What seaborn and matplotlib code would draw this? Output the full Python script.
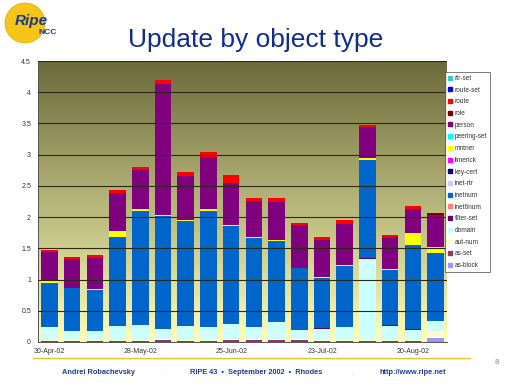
import numpy as np
import matplotlib
matplotlib.use("Agg")
import matplotlib.pyplot as plt
from matplotlib.lines import Line2D
from matplotlib.patches import Ellipse
import seaborn as sns

# weekly dates (x categories)
dates = ['30-Apr-02', '7-May-02', '14-May-02', '21-May-02', '28-May-02', '4-Jun-02',
         '11-Jun-02', '18-Jun-02', '25-Jun-02', '2-Jul-02', '9-Jul-02', '16-Jul-02',
         '23-Jul-02', '30-Jul-02', '6-Aug-02', '13-Aug-02', '20-Aug-02', '27-Aug-02']
shown_ticks = ['30-Apr-02', '28-May-02', '25-Jun-02', '23-Jul-02', '20-Aug-02']

# segment values per object type (stack order bottom -> top)
as_block   = [0, 0, 0, 0, 0, 0, 0, 0, 0, 0, 0, 0, 0, 0, 0, 0, 0, 0.06]
as_set     = [0.02, 0.02, 0.02, 0.02, 0.02, 0.03, 0.02, 0.02, 0.03, 0.03, 0.03, 0.03, 0.02, 0.02, 0.02, 0.02, 0.02, 0.01]
aut_num    = [0.02, 0.02, 0.02, 0.02, 0.02, 0.02, 0.02, 0.02, 0.02, 0.02, 0.02, 0.02, 0.02, 0.02, 0.02, 0.02, 0.02, 0.10]
domain     = [0.20, 0.13, 0.14, 0.21, 0.24, 0.16, 0.22, 0.20, 0.24, 0.19, 0.27, 0.14, 0.17, 0.20, 1.29, 0.22, 0.16, 0.16]
filter_set = [0, 0.01, 0, 0.01, 0, 0, 0, 0, 0, 0, 0, 0.01, 0.01, 0, 0.01, 0.01, 0.01, 0]
inet6num   = [0] * 18
inetnum    = [0.71, 0.68, 0.66, 1.42, 1.81, 1.81, 1.67, 1.86, 1.57, 1.42, 1.30, 0.98, 0.81, 0.98, 1.58, 0.89, 1.34, 1.10]
inet_rtr   = [0] * 18
key_cert   = [0] * 18
limerick   = [0] * 18
mntner     = [0.02, 0.01, 0.01, 0.10, 0.04, 0.02, 0.02, 0.03, 0.02, 0.02, 0.01, 0.01, 0.01, 0.01, 0.02, 0.01, 0.19, 0.09]
peering_set = [0] * 18
person     = [0.47, 0.46, 0.49, 0.60, 0.62, 2.09, 0.71, 0.84, 0.66, 0.58, 0.62, 0.68, 0.60, 0.66, 0.50, 0.51, 0.39, 0.52]
role       = [0, 0, 0, 0, 0, 0, 0, 0, 0, 0, 0, 0, 0, 0, 0, 0, 0, 0.02]
route      = [0.03, 0.03, 0.05, 0.05, 0.05, 0.07, 0.06, 0.07, 0.13, 0.04, 0.05, 0.03, 0.04, 0.07, 0.04, 0.04, 0.05, 0.01]
route_set  = [0] * 18
rtr_set    = [0] * 18

series = [
    ('as-block', as_block, '#9999FF'),
    ('as-set', as_set, '#993366'),
    ('aut-num', aut_num, '#FFFFCC'),
    ('domain', domain, '#CCFFFF'),
    ('filter-set', filter_set, '#660066'),
    ('inet6num', inet6num, '#FF8080'),
    ('inetnum', inetnum, '#0066CC'),
    ('inet-rtr', inet_rtr, '#CCCCFF'),
    ('key-cert', key_cert, '#000080'),
    ('limerick', limerick, '#FF00FF'),
    ('mntner', mntner, '#FFFF00'),
    ('peering-set', peering_set, '#00FFFF'),
    ('person', person, '#800080'),
    ('role', role, '#800000'),
    ('route', route, '#FF0000'),
    ('route-set', route_set, '#0000FF'),
    ('rtr-set', rtr_set, '#33CCCC'),
]

sns.set_style('white')
plt.rcParams['font.family'] = ['Liberation Sans', 'DejaVu Sans']

fig = plt.figure(figsize=(5.12, 3.84), dpi=100)
ax = fig.add_axes([38 / 512, 1 - 342 / 384, 409 / 512, 281 / 384])

# olive -> pale yellow gradient plot area
top_c = np.array([108, 106, 58]) / 255
bot_c = np.array([255, 255, 185]) / 255
t = np.linspace(0, 1, 256)[:, None]
grad = (top_c * (1 - t) + bot_c * t)[:, None, :]
ax.imshow(grad, extent=[-0.5, 17.5, 0, 4.5], aspect='auto', zorder=0)

# stacked bars: draw cumulative totals from top of stack down
cum = np.cumsum([np.array(s[1]) for s in series], axis=0)
for i in range(len(series) - 1, -1, -1):
    name, vals, col = series[i]
    if not np.any(vals):
        continue
    sns.barplot(x=dates, y=cum[i], color=col, saturation=1, width=0.73,
                ax=ax, zorder=2, linewidth=0)

ax.set_xlim(-0.5, 17.5)
ax.set_ylim(0, 4.5)
ax.set_yticks(np.arange(0, 4.51, 0.5))
ax.set_yticklabels(['0', '0.5', '1', '1.5', '2', '2.5', '3', '3.5', '4', '4.5'])
ax.yaxis.grid(True, color='#2a2a18', linewidth=0.8, zorder=1)
ax.set_axisbelow(False)
for g in ax.get_ygridlines():
    g.set_zorder(1)

idx = [dates.index(d) for d in shown_ticks]
ax.set_xticks(idx)
ax.set_xticklabels(shown_ticks)
ax.set_xticks(np.arange(-0.5, 18, 1), minor=True)
ax.tick_params(axis='x', which='major', length=0, labelsize=5, colors='#333333', pad=4)
ax.tick_params(axis='x', which='minor', length=3, direction='inout', color='#555555', width=0.6)
ax.tick_params(axis='y', length=3, direction='out', labelsize=5, colors='#333333', width=0.6, pad=2)
ax.set_xlabel('')
ax.set_ylabel('')
for side in ['top', 'right']:
    ax.spines[side].set_visible(False)
for side in ['left', 'bottom']:
    ax.spines[side].set_color('#555555')
    ax.spines[side].set_linewidth(0.7)

# legend (top of stack first)
handles = [Line2D([], [], marker='s', linestyle='', markersize=3, markerfacecolor=c,
                  markeredgecolor=c) for _, _, c in reversed(series)]
labels = [n for n, _, _ in reversed(series)]
leg = fig.legend(handles, labels, loc='upper left', bbox_to_anchor=(445 / 512, 1 - 72 / 384),
                 fontsize=4.7, frameon=True, fancybox=False, edgecolor='#444444',
                 handlelength=0.7, handletextpad=0.3, labelspacing=0.72, borderpad=0.45,
                 borderaxespad=0)
leg.get_frame().set_linewidth(0.6)
for txt in leg.get_texts():
    txt.set_color('#333333')

# title
fig.text(0.5, 1 - 40 / 384, 'Update by object type', ha='center', va='center',
         fontsize=19, color='#0F2D8F')

# logo
fig.patches.append(Ellipse((25 / 512, 1 - 23 / 384), 40 / 512, 40 / 384,
                           transform=fig.transFigure, facecolor='#F5C518',
                           edgecolor='#E8A800', linewidth=0.5, zorder=3))
fig.text(31 / 512, 1 - 21 / 384, 'Ripe', ha='center', va='center', fontsize=11,
         fontweight='bold', style='italic', color='#1A3A8C', zorder=4)
fig.text(48 / 512, 1 - 33 / 384, 'NCC', ha='center', va='center', fontsize=6,
         fontweight='bold', color='#1A3A8C', zorder=4)

# footer
fig.add_artist(Line2D([33 / 512, 470 / 512], [1 - 358 / 384] * 2, color='#F0C030',
                      linewidth=1.0, transform=fig.transFigure))
fy = 1 - 372 / 384
fig.text(99 / 512, fy, 'Andrei Robachevsky', ha='center', va='center', fontsize=5.3,
         fontweight='bold', color='#1F3D8F')
fig.text(256 / 512, fy, 'RIPE 43  \u2022  September 2002  \u2022  Rhodes', ha='center',
         va='center', fontsize=5.3, fontweight='bold', color='#1F3D8F')
fig.text(413 / 512, fy, 'http://www.ripe.net', ha='center', va='center', fontsize=5.3,
         fontweight='bold', color='#1F3D8F')
fig.text(161 / 512, fy - 0.004, '.', ha='center', va='center', fontsize=6, color='#F0C030')
fig.text(352 / 512, fy - 0.004, '.', ha='center', va='center', fontsize=6, color='#F0C030')
fig.text(497 / 512, 1 - 362 / 384, '8', ha='center', va='center', fontsize=5.5, color='#888888')

fig.savefig('out.png', dpi=100)
